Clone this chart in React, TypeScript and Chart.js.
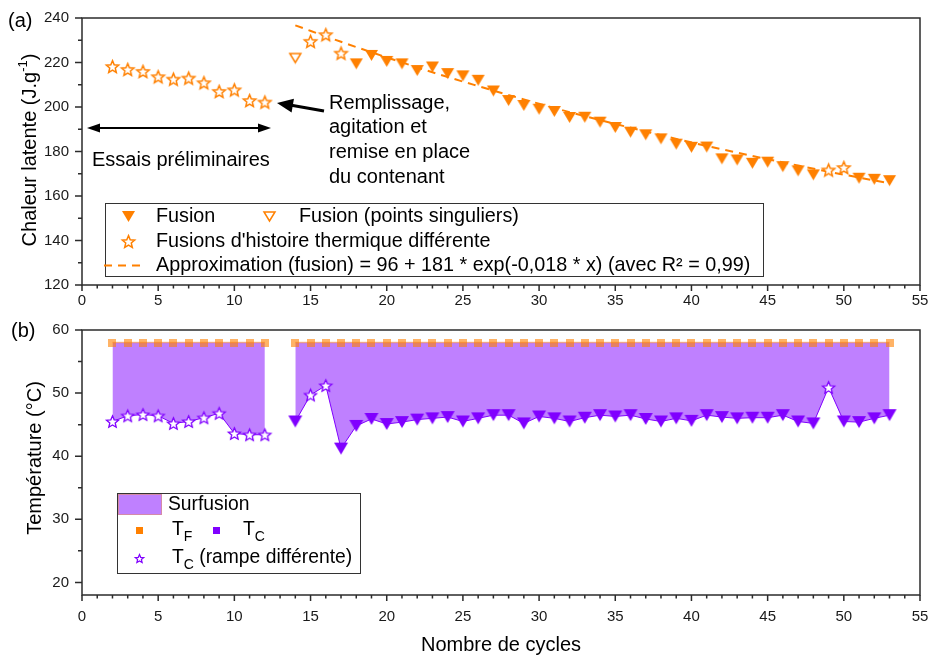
import React, { useEffect, useRef } from 'react';
import { Chart, registerables } from 'chart.js';
Chart.register(...registerables);

const FONT = "'Liberation Sans', Arial, Helvetica, sans-serif";
const ORANGE = '#FF8000';
const PURPLE = '#8000FF';
const FILL_PURPLE = '#BF80FF';
const TF_COLOR = 'rgba(255,128,0,0.6)';
const TXT = 20;
const LEG_TXT = 19.8;
const LEG_B_TXT = 19.3;

// ---------- Panel (a): latent heat ----------
const PRELIM_CYCLES = [2, 3, 4, 5, 6, 7, 8, 9, 10, 11, 12];
const PRELIM_HEAT = [218.2, 216.9, 216.0, 213.6, 212.5, 213.0, 210.9, 207.0, 207.7, 202.9, 202.2];
const SINGULAR_CYCLES = [14];
const SINGULAR_HEAT = [222.0];
const OTHER_HIST_CYCLES = [15, 16, 17, 49, 50];
const OTHER_HIST_HEAT = [229.5, 232.5, 224.2, 171.7, 172.8];
const FUSION_CYCLES = [18, 19, 20, 21, 22, 23, 24, 25, 26, 27, 28, 29, 30, 31, 32, 33, 34, 35, 36, 37, 38, 39, 40, 41, 42, 43, 44, 45, 46, 47, 48, 51, 52, 53];
const FUSION_HEAT = [219.4, 223.2, 220.5, 219.4, 216.4, 218.0, 215.0, 214.0, 212.0, 207.2, 202.9, 200.7, 199.0, 198.0, 195.3, 195.4, 193.2, 190.8, 188.7, 187.5, 185.7, 183.3, 181.9, 182.0, 176.7, 176.2, 174.7, 175.2, 173.2, 171.3, 169.5, 168.0, 167.5, 166.9];
const FIT_CYCLES = [14, 17, 20, 23, 26, 29, 32, 35, 38, 41, 44, 47, 50, 53];
const FIT_HEAT = [236.7, 229.3, 222.3, 215.6, 209.4, 203.4, 197.7, 192.4, 187.3, 182.5, 178.0, 173.7, 169.6, 165.7];

// ---------- Panel (b): temperatures ----------
const TEMP_CYCLES = [2, 3, 4, 5, 6, 7, 8, 9, 10, 11, 12, 14, 15, 16, 17, 18, 19, 20, 21, 22, 23, 24, 25, 26, 27, 28, 29, 30, 31, 32, 33, 34, 35, 36, 37, 38, 39, 40, 41, 42, 43, 44, 45, 46, 47, 48, 49, 50, 51, 52, 53];
const TC_TEMP = [45.5, 46.4, 46.6, 46.4, 45.2, 45.5, 46.1, 46.8, 43.6, 43.4, 43.4, 45.5, 49.7, 51.2, 41.2, 44.8, 45.9, 45.1, 45.4, 45.8, 46.0, 46.2, 45.5, 46.0, 46.5, 46.5, 45.2, 46.3, 46.0, 45.5, 46.1, 46.5, 46.3, 46.5, 45.9, 45.5, 46.0, 45.6, 46.5, 46.2, 46.0, 46.1, 46.1, 46.5, 45.5, 45.2, 50.9, 45.5, 45.4, 46.0, 46.5];
const TF_TEMP = [58, 58, 58, 58, 58, 58, 58, 58, 58, 58, 58, 58, 58, 58, 58, 58, 58, 58, 58, 58, 58, 58, 58, 58, 58, 58, 58, 58, 58, 58, 58, 58, 58, 58, 58, 58, 58, 58, 58, 58, 58, 58, 58, 58, 58, 58, 58, 58, 58, 58, 58];
const RAMP_CYCLES = [2, 3, 4, 5, 6, 7, 8, 9, 10, 11, 12, 15, 16, 49];

// ---------- Axes ----------
const X_TICKS = [0, 5, 10, 15, 20, 25, 30, 35, 40, 45, 50, 55];
const X_MINOR = [1, 2, 3, 4, 6, 7, 8, 9, 11, 12, 13, 14, 16, 17, 18, 19, 21, 22, 23, 24, 26, 27, 28, 29, 31, 32, 33, 34, 36, 37, 38, 39, 41, 42, 43, 44, 46, 47, 48, 49, 51, 52, 53, 54];
const YA_TICKS = [120, 140, 160, 180, 200, 220, 240];
const YA_MINOR = [130, 150, 170, 190, 210, 230];
const YB_TICKS = [20, 30, 40, 50, 60];
const YB_MINOR = [25, 35, 45, 55];

function pts(xs: number[], ys: number[]) {
  return xs.map((x, i) => ({ x, y: ys[i] }));
}

function mk(w: number, h: number) {
  const c = document.createElement('canvas');
  c.width = w; c.height = h;
  return c;
}
function triDown(w: number, h: number, fill: string | null, stroke: string | null, lw: number) {
  const pad = 2;
  const c = mk(Math.ceil(w + pad * 2), Math.ceil(h + pad * 2));
  const g = c.getContext('2d')!;
  g.beginPath();
  g.moveTo(pad, pad); g.lineTo(pad + w, pad); g.lineTo(pad + w / 2, pad + h); g.closePath();
  if (fill) { g.fillStyle = fill; g.fill(); }
  if (stroke) { g.strokeStyle = stroke; g.lineWidth = lw; g.lineJoin = 'miter'; g.stroke(); }
  return c;
}
function starImg(R: number, fill: string, stroke: string, lw: number) {
  const size = Math.ceil(2 * R + 4);
  const c = mk(size, size);
  const g = c.getContext('2d')!;
  const cx = size / 2, cy = size / 2 + R * 0.1;
  g.beginPath();
  for (let i = 0; i < 10; i++) {
    const r = i % 2 === 0 ? R : R * 0.45;
    const a = -Math.PI / 2 + i * Math.PI / 5;
    const px = cx + r * Math.cos(a), py = cy + r * Math.sin(a);
    if (i === 0) g.moveTo(px, py); else g.lineTo(px, py);
  }
  g.closePath();
  g.fillStyle = fill; g.fill();
  g.strokeStyle = stroke; g.lineWidth = lw; g.lineJoin = 'miter'; g.stroke();
  return c;
}
function squareImg(s: number, fill: string) {
  const c = mk(s, s);
  const g = c.getContext('2d')!;
  g.fillStyle = fill; g.fillRect(0, 0, s, s);
  return c;
}

function drawAxes(chart: any, yMajor: number[], yMinor: number[]) {
  const { ctx, chartArea: a, scales } = chart;
  const xs = scales.x, ys = scales.y;
  ctx.save();
  ctx.strokeStyle = '#2b2b2b';
  ctx.lineWidth = 1.5;
  ctx.strokeRect(a.left, a.top, a.right - a.left, a.bottom - a.top);
  ctx.beginPath();
  for (const v of X_TICKS) { const p = xs.getPixelForValue(v); ctx.moveTo(p, a.bottom); ctx.lineTo(p, a.bottom + 6); }
  for (const v of X_MINOR) { const p = xs.getPixelForValue(v); ctx.moveTo(p, a.bottom); ctx.lineTo(p, a.bottom + 3.5); }
  for (const v of yMajor) { const p = ys.getPixelForValue(v); ctx.moveTo(a.left, p); ctx.lineTo(a.left - 7, p); }
  for (const v of yMinor) { const p = ys.getPixelForValue(v); ctx.moveTo(a.left, p); ctx.lineTo(a.left - 4, p); }
  ctx.stroke();
  ctx.restore();
}

function text(ctx: CanvasRenderingContext2D, s: string, x: number, y: number, size = TXT, align: CanvasTextAlign = 'left') {
  ctx.font = `${size}px ${FONT}`;
  ctx.textAlign = align;
  ctx.textBaseline = 'middle';
  ctx.fillStyle = '#000';
  ctx.fillText(s, x, y);
  return ctx.measureText(s).width;
}

function arrowHead(ctx: CanvasRenderingContext2D, tx: number, ty: number, fx: number, fy: number, len: number, hw: number) {
  const ang = Math.atan2(ty - fy, tx - fx);
  const bx = tx - len * Math.cos(ang), by = ty - len * Math.sin(ang);
  ctx.beginPath();
  ctx.moveTo(tx, ty);
  ctx.lineTo(bx + hw * Math.sin(ang), by - hw * Math.cos(ang));
  ctx.lineTo(bx - hw * Math.sin(ang), by + hw * Math.cos(ang));
  ctx.closePath();
  ctx.fill();
}

function drawSubT(ctx: CanvasRenderingContext2D, sub: string, x: number, y: number, rest = '') {
  const w = text(ctx, 'T', x, y, LEG_B_TXT);
  const w2 = text(ctx, sub, x + w, y + 7, 14);
  if (rest) text(ctx, rest, x + w + w2, y, LEG_B_TXT);
}

function scaleX(height: number, pad: number) {
  return {
    type: 'linear', min: 0, max: 55,
    afterBuildTicks: (s: any) => { s.ticks = X_TICKS.map((v) => ({ value: v })); },
    afterFit: (s: any) => { s.height = height; s.paddingLeft = 0; s.paddingRight = 0; },
    grid: { display: false, drawTicks: false },
    border: { display: false },
    ticks: { padding: pad, autoSkip: false, maxRotation: 0, color: '#1a1a1a', font: { family: FONT, size: 15 } },
  };
}
function scaleY(min: number, max: number, ticks: number[]) {
  return {
    type: 'linear', min, max,
    afterBuildTicks: (s: any) => { s.ticks = ticks.map((v) => ({ value: v })); },
    afterFit: (s: any) => { s.width = 82; s.paddingTop = 0; s.paddingBottom = 0; },
    grid: { display: false, drawTicks: false },
    border: { display: false },
    ticks: { padding: 13, color: '#1a1a1a', font: { family: FONT, size: 15 } },
  };
}

export default function App() {
  const refA = useRef<HTMLCanvasElement>(null);
  const refB = useRef<HTMLCanvasElement>(null);

  useEffect(() => {
    const triA = triDown(13, 11, ORANGE, null, 0);
    const triOpenA = triDown(11, 9, '#fff', ORANGE, 1.5);
    const starA = starImg(6.5, '#fff', ORANGE, 1.5);
    const triB = triDown(14, 12, PURPLE, null, 0);
    const starB = starImg(6.3, '#fff', PURPLE, 1.3);
    const sqB = squareImg(8, TF_COLOR);
    const legSqO = squareImg(7, ORANGE);
    const legSqP = squareImg(7, PURPLE);
    const legStarB = starImg(4.5, '#fff', PURPLE, 1.2);

    const img = (ctx: CanvasRenderingContext2D, im: HTMLCanvasElement, x: number, y: number) => {
      ctx.drawImage(im, Math.round(x - im.width / 2), Math.round(y - im.height / 2));
    };

    const pluginA = {
      id: 'decorA',
      afterDraw(chart: any) {
        const ctx: CanvasRenderingContext2D = chart.ctx;
        drawAxes(chart, YA_TICKS, YA_MINOR);
        ctx.save();
        text(ctx, '(a)', 8, 21, 20);
        // y title
        ctx.save();
        ctx.translate(30, 150);
        ctx.rotate(-Math.PI / 2);
        ctx.font = `${TXT}px ${FONT}`;
        const p1 = 'Chaleur latente (J.g';
        const w1 = ctx.measureText(p1).width;
        ctx.font = `13px ${FONT}`;
        const w2 = ctx.measureText('-1').width;
        ctx.font = `${TXT}px ${FONT}`;
        const w3 = ctx.measureText(')').width;
        const start = -(w1 + w2 + w3) / 2;
        text(ctx, p1, start, 0, TXT);
        text(ctx, '-1', start + w1, -7, 13);
        text(ctx, ')', start + w1 + w2, 0, TXT);
        ctx.restore();

        // annotations
        ctx.fillStyle = '#000';
        ctx.strokeStyle = '#000';
        ctx.lineWidth = 2;
        ctx.beginPath(); ctx.moveTo(98, 128); ctx.lineTo(260, 128); ctx.stroke();
        arrowHead(ctx, 87, 128, 260, 128, 13, 4.5);
        arrowHead(ctx, 271, 128, 98, 128, 13, 4.5);
        text(ctx, 'Essais préliminaires', 92, 160, TXT);

        ctx.lineWidth = 3;
        ctx.beginPath(); ctx.moveTo(324, 111); ctx.lineTo(290, 105); ctx.stroke();
        arrowHead(ctx, 277, 103, 324, 111, 16, 7);
        const lines = ['Remplissage,', 'agitation et', 'remise en place', 'du contenant'];
        lines.forEach((l, i) => text(ctx, l, 329, 103 + i * 24.7, TXT));

        // legend (a)
        ctx.fillStyle = '#fff';
        ctx.fillRect(105, 203, 658, 74);
        ctx.strokeStyle = '#333';
        ctx.lineWidth = 1;
        ctx.strokeRect(105.5, 203.5, 658, 73);
        img(ctx, triA, 128, 216.5);
        text(ctx, 'Fusion', 156, 216.5, LEG_TXT);
        img(ctx, triOpenA, 269, 216.5);
        text(ctx, 'Fusion (points singuliers)', 299, 216.5, LEG_TXT);
        img(ctx, starA, 128, 241.5);
        text(ctx, "Fusions d'histoire thermique différente", 156, 241.5, LEG_TXT);
        ctx.strokeStyle = ORANGE;
        ctx.lineWidth = 2;
        ctx.setLineDash([8, 6]);
        ctx.beginPath(); ctx.moveTo(104, 265.5); ctx.lineTo(145, 265.5); ctx.stroke();
        ctx.setLineDash([]);
        text(ctx, 'Approximation (fusion) = 96 + 181 * exp(-0,018 * x) (avec R² = 0,99)', 156, 265.5, LEG_TXT);
        ctx.restore();
      },
    };

    const pluginB = {
      id: 'decorB',
      afterDraw(chart: any) {
        const ctx: CanvasRenderingContext2D = chart.ctx;
        drawAxes(chart, YB_TICKS, YB_MINOR);
        ctx.save();
        ctx.translate(0, -310);
        text(ctx, '(b)', 11, 331, 20);
        ctx.save();
        ctx.translate(35, 458);
        ctx.rotate(-Math.PI / 2);
        text(ctx, 'Température (°C)', 0, 0, TXT, 'center');
        ctx.restore();
        text(ctx, 'Nombre de cycles', 501, 645, TXT, 'center');

        // legend (b)
        ctx.fillStyle = '#fff';
        ctx.fillRect(117, 493, 243, 80);
        ctx.strokeStyle = '#333';
        ctx.lineWidth = 1;
        ctx.strokeRect(117.5, 493.5, 243, 80);
        ctx.fillStyle = FILL_PURPLE;
        ctx.fillRect(118, 494, 44, 21);
        ctx.strokeStyle = '#d48aa8';
        ctx.strokeRect(118.5, 494.5, 43, 20);
        text(ctx, 'Surfusion', 168, 505, LEG_B_TXT);
        img(ctx, legSqO, 139, 530);
        drawSubT(ctx, 'F', 172, 530);
        img(ctx, legSqP, 216, 530);
        drawSubT(ctx, 'C', 243, 530);
        img(ctx, legStarB, 139, 558);
        drawSubT(ctx, 'C', 172, 558, ' (rampe différente)');
        ctx.restore();
      },
    };

    const chartA = new Chart(refA.current!, {
      type: 'line',
      data: {
        datasets: [
          { data: pts(FUSION_CYCLES, FUSION_HEAT), showLine: false, pointStyle: triA, pointRadius: 6 } as any,
          { data: pts(SINGULAR_CYCLES, SINGULAR_HEAT), showLine: false, pointStyle: triOpenA, pointRadius: 6 },
          { data: pts(OTHER_HIST_CYCLES, OTHER_HIST_HEAT), showLine: false, pointStyle: starA, pointRadius: 6 },
          { data: pts(PRELIM_CYCLES, PRELIM_HEAT), showLine: false, pointStyle: starA, pointRadius: 6 },
          {
            data: pts(FIT_CYCLES, FIT_HEAT), borderColor: ORANGE, borderWidth: 2, borderDash: [8, 6],
            pointRadius: 0, cubicInterpolationMode: 'monotone', fill: false,
          },
        ],
      },
      options: {
        responsive: false,
        animation: false,
        events: [],
        layout: { padding: { left: 0, top: 18, right: 11, bottom: 0 } },
        plugins: { legend: { display: false }, tooltip: { enabled: false } },
        scales: { x: scaleX(25, 7) as any, y: scaleY(120, 240, YA_TICKS) as any },
      },
      plugins: [pluginA],
    });

    const seg1 = TEMP_CYCLES.map((c, i) => i).filter((i) => TEMP_CYCLES[i] <= 12);
    const seg2 = TEMP_CYCLES.map((c, i) => i).filter((i) => TEMP_CYCLES[i] >= 14);
    const tcData = (idx: number[]) => idx.map((i) => ({ x: TEMP_CYCLES[i], y: TC_TEMP[i] }));
    const tfData = (idx: number[]) => idx.map((i) => ({ x: TEMP_CYCLES[i], y: TF_TEMP[i] }));
    const tcStyle = (idx: number[]) => idx.map((i) => (RAMP_CYCLES.includes(TEMP_CYCLES[i]) ? starB : triB));

    const tcDs = (idx: number[], target: number) => ({
      data: tcData(idx), borderColor: PURPLE, borderWidth: 1, backgroundColor: FILL_PURPLE,
      fill: { target }, pointStyle: tcStyle(idx), pointRadius: 6, tension: 0,
    });
    const tfDs = (idx: number[]) => ({
      data: tfData(idx), borderColor: 'rgba(255,128,0,0.45)', borderWidth: 1.5, fill: false,
      pointStyle: sqB, pointRadius: 5, tension: 0,
    });

    const chartB = new Chart(refB.current!, {
      type: 'line',
      data: { datasets: [tcDs(seg1, 2), tcDs(seg2, 3), tfDs(seg1), tfDs(seg2)] as any },
      options: {
        responsive: false,
        animation: false,
        events: [],
        layout: { padding: { left: 0, top: 20, right: 11, bottom: 0 } },
        plugins: { legend: { display: false }, tooltip: { enabled: false }, filler: { drawTime: 'beforeDatasetsDraw' } } as any,
        scales: { x: scaleX(62, 13) as any, y: scaleY(18, 60, YB_TICKS) as any },
      },
      plugins: [pluginB],
    });

    return () => { chartA.destroy(); chartB.destroy(); };
  }, []);

  return (
    <div style={{ position: 'fixed', left: 0, top: 0, width: 931, height: 657, background: '#fff' }}>
      <canvas ref={refA} width={931} height={310} style={{ position: 'absolute', left: 0, top: 0, width: 931, height: 310 }} />
      <canvas ref={refB} width={931} height={347} style={{ position: 'absolute', left: 0, top: 310, width: 931, height: 347 }} />
    </div>
  );
}
